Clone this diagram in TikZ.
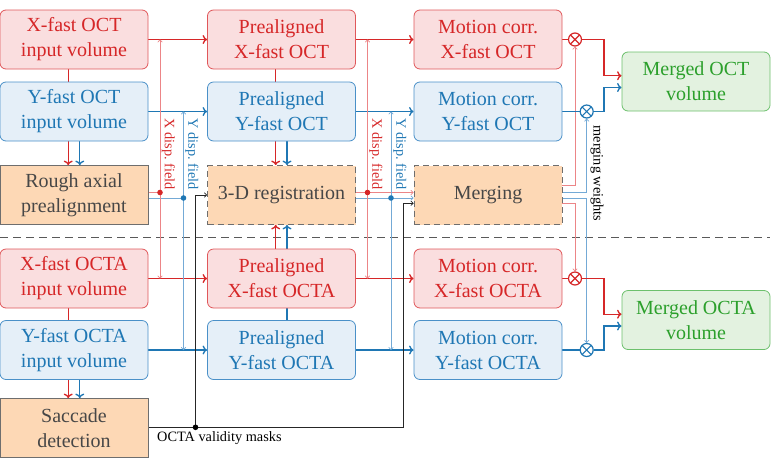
\documentclass[tikz,border=0pt]{standalone}
\usepackage{fontspec}
\setmainfont{Liberation Serif}
\newfontfamily\serifbox{Liberation Serif}
\usetikzlibrary{arrows.meta,calc,backgrounds}
\definecolor{cred}{HTML}{D62728}
\definecolor{cblue}{HTML}{1F77B4}
\definecolor{cgreen}{HTML}{2CA02C}
\definecolor{redfill}{HTML}{FADEDF}
\definecolor{redline}{HTML}{E0575A}
\definecolor{bluefill}{HTML}{E5EFF8}
\definecolor{blueline}{HTML}{4A90C8}
\definecolor{greenfill}{HTML}{E3F2E0}
\definecolor{greenline}{HTML}{6CC06C}
\definecolor{orfill}{HTML}{FDD8B5}
\definecolor{orline}{HTML}{6E6E6E}
\definecolor{thinr}{HTML}{EC8587}
\definecolor{thinb}{HTML}{74AAD6}
\tikzset{
  box/.style={minimum width=148pt, minimum height=59pt, rounded corners=6pt, align=center,
    font=\serifbox\fontsize{20}{25}\selectfont, inner sep=0pt, line width=0.8pt},
  redbox/.style={box, draw=redline, fill=redfill, text=cred},
  bluebox/.style={box, draw=blueline, fill=bluefill, text=cblue},
  greenbox/.style={box, draw=greenline, fill=greenfill, text=cgreen},
  procbox/.style={box, rounded corners=0pt, draw=orline, fill=orfill, text=black!72},
  dproc/.style={procbox, dash pattern=on 6pt off 4pt},
  thickred/.style={draw=cred, line width=1.3pt},
  thickblue/.style={draw=cblue, line width=1.3pt},
  thinred/.style={draw=thinr, line width=0.7pt},
  thinblue/.style={draw=thinb, line width=0.7pt},
  blk/.style={draw=black!85, line width=0.7pt},
  bigtip/.style={-{To[length=4.5pt,width=9pt]}},
  smalltip/.style={-{To[length=3pt,width=5pt]}},
  otimes/.style={circle, minimum size=13pt, inner sep=0pt, fill=white, line width=1.2pt,
    path picture={\draw[line width=1.1pt,#1] (path picture bounding box.north west) -- (path picture bounding box.south east)
      (path picture bounding box.north east) -- (path picture bounding box.south west);}},
  lab/.style={font=\serifbox\fontsize{14.3}{17}\selectfont, inner sep=0pt},
}
\begin{document}
\begin{tikzpicture}[x=1pt,y=-1pt]
\useasboundingbox (0,0) rectangle (778,464);
% nodes
\node[redbox] (xin) at (74,39.5) {X-fast OCT\\input volume};
\node[bluebox] (yin) at (74,111.5) {Y-fast OCT\\input volume};
\node[procbox] (rough) at (74,195) {Rough axial\\prealignment};
\node[redbox] (xain) at (74,278.5) {X-fast OCTA\\input volume};
\node[bluebox] (yain) at (74,350) {Y-fast OCTA\\input volume};
\node[procbox] (sacc) at (74,428) {Saccade\\detection};
\node[redbox] (xpre) at (281.5,39.5) {Prealigned\\X-fast OCT};
\node[bluebox] (ypre) at (281.5,111.5) {Prealigned\\Y-fast OCT};
\node[dproc] (reg) at (281.5,195) {3-D registration};
\node[redbox] (xapre) at (281.5,278.5) {Prealigned\\X-fast OCTA};
\node[bluebox] (yapre) at (281.5,350) {Prealigned\\Y-fast OCTA};
\node[redbox] (xmc) at (488,39.5) {Motion corr.\\X-fast OCT};
\node[bluebox] (ymc) at (488,111.5) {Motion corr.\\Y-fast OCT};
\node[dproc] (merge) at (488,195) {Merging};
\node[redbox] (xamc) at (488,278.5) {Motion corr.\\X-fast OCTA};
\node[bluebox] (yamc) at (488,350) {Motion corr.\\Y-fast OCTA};
\node[greenbox] (moct) at (696,81.5) {Merged OCT\\volume};
\node[greenbox] (mocta) at (696,320) {Merged OCTA\\volume};
% multipliers
\node[otimes=cred, draw=cred] (cx1) at (575,39.5) {};
\node[otimes=cblue, draw=cblue] (cy1) at (586.7,111.5) {};
\node[otimes=cred, draw=cred] (cx2) at (575,278.5) {};
\node[otimes=cblue, draw=cblue] (cy2) at (586.7,350) {};
% coordinates
\coordinate (dx1) at (160,192.5);
\coordinate (dy1) at (183.5,198);
\coordinate (dx2) at (367.5,192.5);
\coordinate (dy2) at (391,198);
\coordinate (bk1) at (195.5,427.3);
\coordinate (bk2) at (403.5,427.3);
\coordinate (bk3) at (403.5,203.3);
\coordinate (s1) at (0,237);
\coordinate (s2) at (770,237);
\coordinate (jx1) at (604,39.5);
\coordinate (jy1) at (604,111.5);
\coordinate (jx2) at (604,278.5);
\coordinate (jy2) at (604,350);
\begin{scope}[on background layer]
% separator
\draw[draw=black!65, line width=0.9pt, dash pattern=on 8pt off 5pt] (s1) -- (s2);
% column 1 verticals
\draw[thickred,bigtip] ($(xin.south)+(-5.8,0)$) -- ($(rough.north)+(-5.8,0)$);
\draw[thickblue,bigtip] ($(yin.south)+(5.8,0)$) -- ($(rough.north)+(5.8,0)$);
\draw[thickred,bigtip] ($(xain.south)+(-5.8,0)$) -- ($(sacc.north)+(-5.8,0)$);
\draw[thickblue,bigtip] ($(yain.south)+(5.8,0)$) -- ($(sacc.north)+(5.8,0)$);
% column 2 verticals
\draw[thickred,bigtip] ($(xpre.south)+(-5.8,0)$) -- ($(reg.north)+(-5.8,0)$);
\draw[thickblue,bigtip] ($(ypre.south)+(5.5,0)$) -- ($(reg.north)+(5.5,0)$);
\draw[thickred,bigtip] ($(xapre.north)+(-5.8,0)$) -- ($(reg.south)+(-5.8,0)$);
\draw[thickblue,bigtip] ($(yapre.north)+(5.5,0)$) -- ($(reg.south)+(5.5,0)$);
% horizontals
\draw[thickred,bigtip] (xin) -- (xpre);
\draw[thickblue,bigtip] (yin) -- (ypre);
\draw[thickred,bigtip] (xain) -- (xapre);
\draw[thickblue,bigtip] (yain) -- (yapre);
\draw[thickred,bigtip] (xpre) -- (xmc);
\draw[thickblue,bigtip] (ypre) -- (ymc);
\draw[thickred,bigtip] (xapre) -- (xamc);
\draw[thickblue,bigtip] (yapre) -- (yamc);
% displacement fields 1
\draw[thinred] (rough.east |- dx1) -- (dx1);
\draw[thinblue] (rough.east |- dy1) -- (dy1);
\draw[thinred,smalltip] (dx1) -- (dx1 |- xin.east);
\draw[thinred,smalltip] (dx1) -- (dx1 |- xain.east);
\draw[thinblue,smalltip] (dy1) -- (dy1 |- yin.east);
\draw[thinblue,smalltip] (dy1) -- (dy1 |- yain.east);
% displacement fields 2
\draw[thinred,smalltip] (reg.east |- dx2) -- (merge.west |- dx2);
\draw[thinblue,smalltip] (reg.east |- dy2) -- (merge.west |- dy2);
\draw[thinred,smalltip] (dx2) -- (dx2 |- xmc.east);
\draw[thinred,smalltip] (dx2) -- (dx2 |- xamc.east);
\draw[thinblue,smalltip] (dy2) -- (dy2 |- ymc.east);
\draw[thinblue,smalltip] (dy2) -- (dy2 |- yamc.east);
% validity masks
\draw[blk] (sacc.east |- bk1) -- (bk2) -- (bk3);
\draw[blk,smalltip] (bk3) -- (merge.west |- bk3);
\draw[blk,smalltip] (bk1) -- (bk1 |- reg.west) -- (reg.west);
% merging weights
\draw[thinred,smalltip] ($(merge.east)+(0,-9.3)$) -| (cx1);
\draw[thinblue,smalltip] ($(merge.east)+(0,-2.7)$) -| (cy1);
\draw[thinblue,smalltip] ($(merge.east)+(0,3.3)$) -| (cy2);
\draw[thinred,smalltip] ($(merge.east)+(0,8.3)$) -| (cx2);
% to merged
\draw[thickred] (xmc) -- (cx1);
\draw[thickblue] (ymc) -- (cy1);
\draw[thickred] (xamc) -- (cx2);
\draw[thickblue] (yamc) -- (cy2);
\draw[thickred,bigtip] (cx1) -- (jx1) |- ($(moct.west)+(0,-5.8)$);
\draw[thickblue,bigtip] (cy1) -- (jy1) |- ($(moct.west)+(0,6)$);
\draw[thickred,bigtip] (cx2) -- (jx2) |- ($(mocta.west)+(0,-5.8)$);
\draw[thickblue,bigtip] (cy2) -- (jy2) |- ($(mocta.west)+(0,6)$);
\end{scope}
% dots
\fill[cred] (dx1) circle (2.8pt);
\fill[cblue] (dy1) circle (2.8pt);
\fill[cred] (dx2) circle (2.8pt);
\fill[cblue] (dy2) circle (2.8pt);
\fill[black] (bk1) circle (2.8pt);
% labels
\node[lab, text=cred, rotate=-90, anchor=east] (lx1) at (168.5,190) {X disp.\ field};
\node[lab, text=cblue, rotate=-90, anchor=east] (ly1) at (192,190) {Y disp.\ field};
\node[lab, text=cred, rotate=-90, anchor=east] (lx2) at (376,190) {X disp.\ field};
\node[lab, text=cblue, rotate=-90, anchor=east] (ly2) at (400,190) {Y disp.\ field};
\node[lab, text=black, rotate=-90] (lw) at (597,173.5) {merging weights};
\node[lab, text=black, anchor=north west] (lm) at (157,431) {OCTA validity masks};
\end{tikzpicture}
\end{document}
